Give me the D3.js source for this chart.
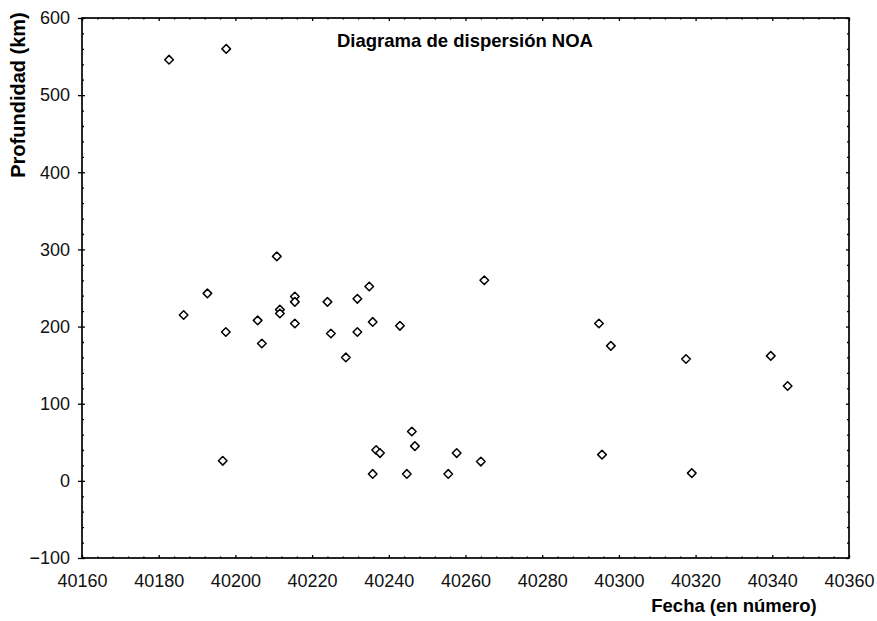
<!DOCTYPE html>
<html>
<head>
<meta charset="utf-8">
<script src="https://cdn.jsdelivr.net/npm/d3@7"></script>
<style>
    body { margin: 0; background: #fff; }
    .tick text { font-family: "Liberation Sans", Arial, sans-serif; font-size: 18px; fill: #111; }
    .lbl { font-family: "Liberation Sans", Arial, sans-serif; font-weight: bold; fill: #000; }
</style>
</head>
<body>
<div id="graph1"></div>
<script>
// data
const fecha = [40182.7, 40197.6, 40210.8, 40192.7, 40186.5, 40197.5, 40205.8, 40206.9,
               40211.6, 40211.6, 40215.5, 40215.5, 40215.5, 40224.0, 40224.9, 40228.8,
               40231.8, 40231.8, 40234.9, 40235.8, 40242.9, 40264.9, 40246.0, 40236.7,
               40237.7, 40246.8, 40257.7, 40264.0, 40235.8, 40244.7, 40255.5, 40196.7,
               40294.8, 40297.9, 40317.5, 40339.6, 40344.0, 40295.6, 40319.0];
const profundidad = [546, 560, 291, 243, 215, 193, 208, 178,
                     222, 217, 239, 232, 204, 232, 191, 160,
                     236, 193, 252, 206, 201, 260, 64, 40,
                     36, 45, 36, 25, 9, 9, 9, 26,
                     204, 175, 158, 162, 123, 34, 10];

const xTicks = [40160, 40180, 40200, 40220, 40240, 40260, 40280, 40300, 40320, 40340, 40360];
const yTicks = [-100, 0, 100, 200, 300, 400, 500, 600];

const graph_width = 877, graph_height = 621;
const plotLeft = 82, plotRight = 849, plotTop = 18, plotBottom = 558;

let svg = d3.select("#graph1")
    .append("svg")
    .attr("width", graph_width)
    .attr("height", graph_height);

let x = d3.scaleLinear().domain([40160, 40360]).range([plotLeft, plotRight]);
let y = d3.scaleLinear().domain([-100, 600]).range([plotBottom, plotTop]);

// minor tick values
const xMinor = d3.range(40160, 40361, 4).filter(v => !xTicks.includes(v));
const yMinor = d3.range(-100, 601, 20).filter(v => !yTicks.includes(v));

function styleAxis(g) {
    g.select(".domain").remove();
    g.selectAll(".tick line").attr("stroke", "#000").attr("stroke-width", 1.3);
}

// bottom axis with labels, ticks inward
svg.append("g")
    .attr("transform", `translate(0, ${plotBottom})`)
    .call(d3.axisBottom(x).tickValues(xTicks).tickFormat(d3.format("d")).tickSize(-3).tickPadding(16))
    .call(styleAxis);
svg.append("g")
    .attr("transform", `translate(0, ${plotBottom})`)
    .call(d3.axisBottom(x).tickValues(xMinor).tickFormat("").tickSize(-1.5))
    .call(styleAxis);

// top axis, no labels
svg.append("g")
    .attr("transform", `translate(0, ${plotTop})`)
    .call(d3.axisTop(x).tickValues(xTicks).tickFormat("").tickSize(-3))
    .call(styleAxis);
svg.append("g")
    .attr("transform", `translate(0, ${plotTop})`)
    .call(d3.axisTop(x).tickValues(xMinor).tickFormat("").tickSize(-1.5))
    .call(styleAxis);

// left axis, major ticks cross the line
svg.append("g")
    .attr("transform", `translate(${plotLeft}, 0)`)
    .call(d3.axisLeft(y).tickValues(yTicks).tickSizeInner(4).tickPadding(8))
    .call(styleAxis)
    .selectAll(".tick line").attr("x2", 3).attr("x1", -4);
svg.append("g")
    .attr("transform", `translate(${plotLeft}, 0)`)
    .call(d3.axisLeft(y).tickValues(yMinor).tickFormat("").tickSize(-2))
    .call(styleAxis);

// right axis
svg.append("g")
    .attr("transform", `translate(${plotRight}, 0)`)
    .call(d3.axisRight(y).tickValues(yTicks).tickFormat("").tickSize(-3))
    .call(styleAxis);
svg.append("g")
    .attr("transform", `translate(${plotRight}, 0)`)
    .call(d3.axisRight(y).tickValues(yMinor).tickFormat("").tickSize(-2))
    .call(styleAxis);

// frame
svg.append("rect")
    .attr("x", plotLeft).attr("y", plotTop)
    .attr("width", plotRight - plotLeft).attr("height", plotBottom - plotTop)
    .attr("fill", "none").attr("stroke", "#000").attr("stroke-width", 1.7);

// points as diamonds
const diamond = "M0,-4.3L4.3,0L0,4.3L-4.3,0Z";
svg.append("g").selectAll("path")
    .data(fecha.map((f, i) => ({f: f, p: profundidad[i]})))
    .enter()
    .append("path")
    .attr("d", diamond)
    .attr("transform", d => `translate(${x(d.f)}, ${y(d.p)})`)
    .attr("fill", "#fff")
    .attr("stroke", "#000")
    .attr("stroke-width", 1.5)
    .attr("stroke-linejoin", "round");

// chart title
svg.append("text")
    .attr("class", "lbl")
    .attr("x", 465).attr("y", 47)
    .style("font-size", "18.5px")
    .style("text-anchor", "middle")
    .text("Diagrama de dispersión NOA");

// x axis label
svg.append("text")
    .attr("class", "lbl")
    .attr("x", 734).attr("y", 612)
    .style("font-size", "18.5px")
    .style("text-anchor", "middle")
    .text("Fecha (en número)");

// y axis label
svg.append("text")
    .attr("class", "lbl")
    .attr("transform", "translate(25, 95) rotate(-90)")
    .style("font-size", "20px")
    .style("text-anchor", "middle")
    .text("Profundidad (km)");
</script>
</body>
</html>
